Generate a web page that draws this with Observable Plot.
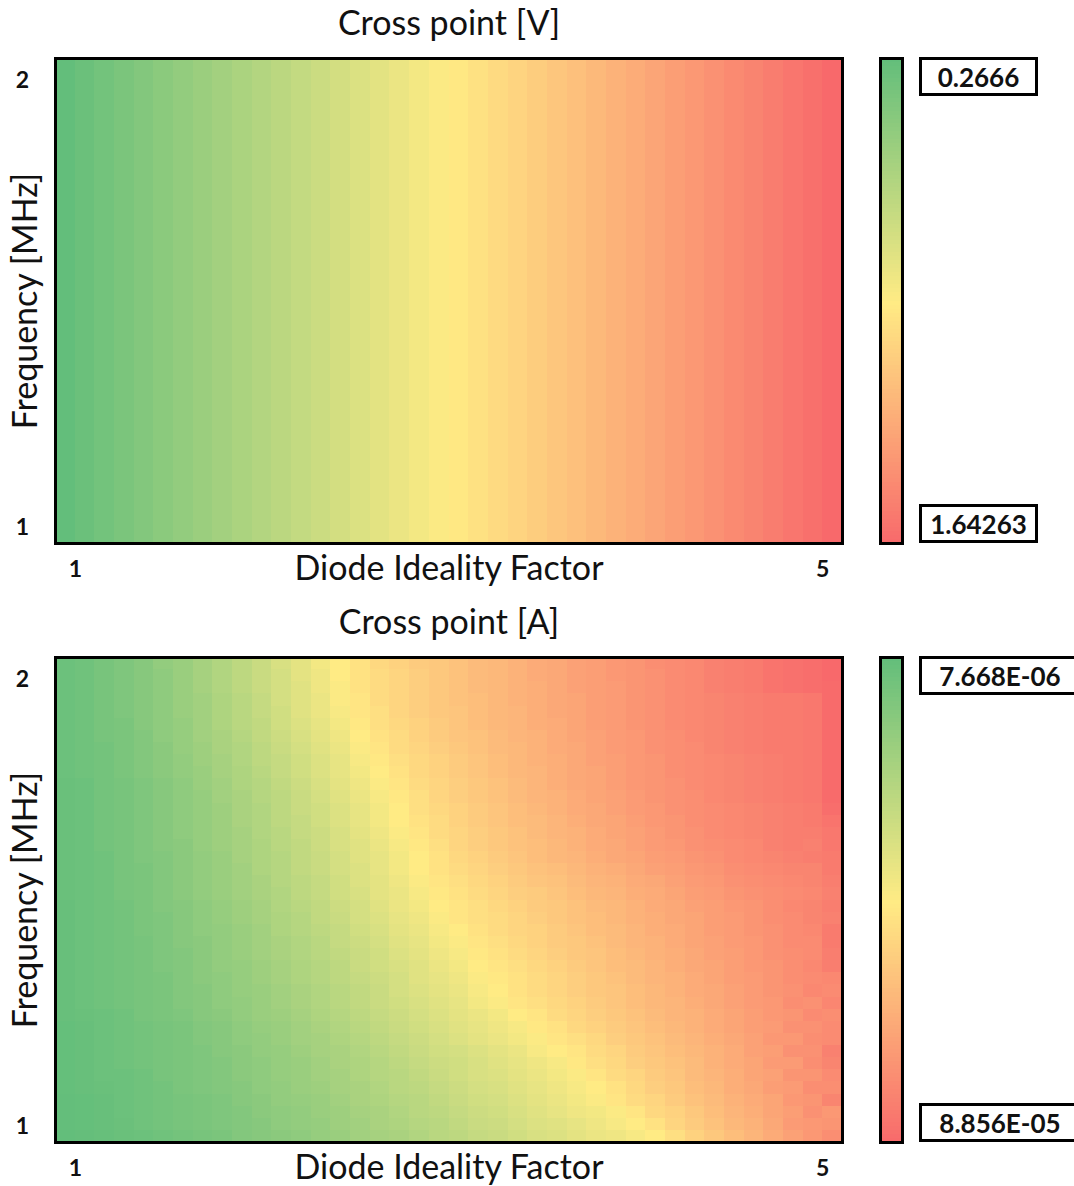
<!DOCTYPE html>
<html><head><meta charset="utf-8">
<script src="https://cdn.jsdelivr.net/npm/d3@7"></script>
<script src="https://cdn.jsdelivr.net/npm/@observablehq/plot@0.6"></script>
<style>
html,body{margin:0;padding:0;background:#fff;overflow:hidden;}
#root{position:relative;width:1074px;height:1186px;overflow:hidden;font-family:Lato,"Open Sans",sans-serif;}
.panel{position:absolute;left:0;width:1074px;height:598px;}
.panel svg{position:absolute;left:0;top:0;}
.vbox{position:absolute;left:919px;height:39px;box-sizing:border-box;border:3px solid #000;background:#fff;font-weight:700;font-size:26px;display:flex;align-items:center;justify-content:center;color:#111;font-family:Lato,sans-serif;}
</style></head><body><div id="root"></div>
<script>
// ---- axes categories ----
const idealityFactors = [1.000,1.103,1.205,1.308,1.410,1.513,1.615,1.718,1.821,1.923,2.026,2.128,2.231,2.333,2.436,2.538,2.641,2.744,2.846,2.949,3.051,3.154,3.256,3.359,3.462,3.564,3.667,3.769,3.872,3.974,4.077,4.179,4.282,4.385,4.487,4.590,4.692,4.795,4.897,5.000];
const frequenciesMHz = [1.000,1.026,1.051,1.077,1.103,1.128,1.154,1.179,1.205,1.231,1.256,1.282,1.308,1.333,1.359,1.385,1.410,1.436,1.462,1.487,1.513,1.538,1.564,1.590,1.615,1.641,1.667,1.692,1.718,1.744,1.769,1.795,1.821,1.846,1.872,1.897,1.923,1.949,1.974,2.000];

// ---- Cross point [V] by diode ideality factor (same at every frequency) ----
const crossPointVoltage = [0.2666,0.302,0.337,0.372,0.408,0.443,0.478,0.514,0.549,0.584,0.619,0.655,0.690,0.725,0.761,0.796,0.831,0.866,0.902,0.937,0.972,1.008,1.043,1.078,1.113,1.149,1.184,1.219,1.255,1.290,1.325,1.360,1.396,1.431,1.466,1.502,1.537,1.572,1.607,1.64263];

// ---- Cross point [A] in microamps; rows from 2 MHz (top) down to 1 MHz (bottom), columns n = 1..5 ----
const crossPointCurrentUA = [
[10,11,13,15,17,20,22,25,28,31,34,38,41,45,48,51,54,56,58,59,61,63,64,66,68,69,71,72,74,75,77,78,79,81,82,83,85,86,87,88.56],
[10,11,13,15,17,19,22,25,28,31,34,37,41,44,48,51,53,55,57,59,61,63,64,66,68,69,71,72,74,75,76,78,79,81,82,83,85,86,87,88.5],
[10,11,13,15,17,19,22,25,28,31,34,37,40,44,47,51,53,55,57,59,61,63,64,66,67,69,71,72,73,75,76,78,79,81,82,83,85,86,87,88],
[10,11,13,15,17,19,22,24,27,30,33,37,40,43,47,50,53,55,57,59,61,62,64,66,67,69,70,72,73,75,76,78,79,80,81,82,83,83,84,88],
[10,11,13,15,17,19,22,24,27,30,33,36,40,43,46,50,52,55,57,59,60,62,64,65,67,69,70,72,73,75,76,78,79,80,81,82,83,83,84,88],
[10,11,13,14,17,19,21,24,27,30,32,36,39,42,45,49,52,54,56,58,60,62,64,65,67,68,70,72,73,75,76,78,79,80,81,82,83,83,84,88],
[10,11,13,14,16,19,21,24,26,29,32,35,38,41,44,48,51,53,56,58,60,61,63,65,66,68,70,71,73,74,76,77,79,80,81,82,83,83,84,88],
[10,11,12,14,16,18,21,23,26,28,31,34,37,40,43,47,50,53,55,57,59,61,63,64,66,68,69,71,73,74,76,77,78,80,81,82,83,83,84,88],
[10,11,12,14,16,18,20,23,25,28,31,33,36,39,42,46,49,52,54,56,58,60,62,64,66,67,69,71,72,74,75,77,78,79,80,81,82,83,84,88],
[10,11,12,14,16,18,20,22,25,27,30,33,36,39,42,45,48,51,54,56,58,60,62,64,65,67,69,70,72,74,75,77,78,79,80,81,82,83,84,88],
[9.5,10,12,13,15,17,19,22,24,27,29,32,35,38,41,44,47,50,53,55,57,59,61,63,65,67,69,70,72,74,75,76,78,79,80,81,82,83,84,88],
[9.5,10,12,13,15,17,19,21,24,26,29,31,34,37,40,43,46,49,52,55,57,59,61,63,65,66,68,70,71,73,75,76,77,79,80,81,82,83,84,88],
[9.5,10,12,13,15,17,19,21,23,26,28,31,34,36,39,42,45,48,52,54,56,58,60,62,64,66,68,69,71,73,74,76,77,78,79,80,81,82,83,87],
[9.5,10,12,13,15,17,19,21,23,26,28,31,33,36,39,42,45,48,51,53,56,58,60,62,63,65,67,69,70,72,74,75,77,78,79,80,81,82,83,85],
[9.5,10,12,13,15,17,19,21,23,25,28,30,33,35,38,41,44,47,50,53,55,57,59,61,63,65,66,68,70,71,73,75,76,78,79,80,81,82,82,84],
[9.5,10,12,13,15,17,18,21,23,25,27,30,32,35,38,40,43,46,49,52,55,57,59,61,62,64,66,68,69,71,73,74,76,77,78,79,81,82,81,84],
[9.5,10,11,13,15,16,18,20,22,25,27,29,32,34,37,40,42,45,48,51,54,56,58,60,62,64,65,67,69,70,72,73,75,76,78,79,80,81,82,83],
[9.5,10,11,13,14,16,18,20,22,24,27,29,32,34,37,39,42,45,48,51,53,55,57,59,61,62,64,66,67,69,71,72,74,75,77,78,79,80,80,83],
[9.5,10,11,13,14,16,18,20,22,24,26,29,31,33,36,39,41,44,47,50,52,54,56,58,60,61,63,65,66,68,69,71,73,74,76,77,78,79,80,82],
[9.5,10,11,13,14,16,18,20,22,24,26,28,31,33,36,38,41,43,46,49,51,53,55,57,58,60,62,64,65,67,68,70,72,73,75,76,77,78,79,81],
[9,10,11,12,14,16,17,19,21,23,25,28,30,32,35,37,40,43,45,48,50,52,54,56,58,59,61,63,64,66,68,69,71,72,74,75,77,79,80,82],
[9,10,11,12,14,15,17,19,21,23,25,27,29,32,34,37,39,42,44,47,50,52,53,55,57,59,61,62,64,66,67,69,70,72,73,75,77,78,80,81],
[9,10,11,12,14,15,17,19,20,22,24,27,29,31,33,36,38,41,43,46,48,51,53,55,56,58,60,62,63,65,67,68,70,72,73,75,76,78,79,83],
[9,10,11,12,13,15,17,18,20,22,24,26,28,30,33,35,37,40,42,45,47,50,52,54,56,58,59,61,63,65,66,68,70,71,73,74,76,78,78,83],
[9,10,11,12,13,15,16,18,20,22,24,26,28,30,32,34,36,39,41,44,46,49,51,53,55,57,59,60,62,64,66,67,69,71,72,74,76,77,78,82],
[9,10,11,12,13,15,16,18,20,21,23,25,27,29,31,34,36,38,40,43,45,48,50,52,54,56,58,60,62,63,65,67,69,70,72,74,75,77,79,82],
[9,10,11,12,13,14,16,18,19,21,23,25,27,29,31,33,35,37,40,42,44,47,49,51,53,55,57,59,61,63,65,66,68,70,72,73,75,77,78,79],
[9,10,11,12,13,14,16,17,19,21,22,24,26,28,30,32,34,37,39,41,43,46,48,51,53,55,57,59,60,62,64,66,68,69,71,73,75,76,79,78],
[9,10,11,12,13,14,16,17,19,20,22,24,26,28,30,32,34,36,38,40,42,45,47,50,52,54,56,58,60,62,64,65,67,69,71,73,74,77,76,79.5],
[9,9.5,10,11,13,14,15,17,18,20,22,23,25,27,29,31,33,35,37,39,41,43,45,48,50,53,55,57,59,61,63,65,66,68,70,72,74,75,78,77],
[8.3,9,10,11,12,13,14,16,17,19,21,22,24,26,28,30,32,34,36,38,40,42,44,46,49,51,54,56,58,60,62,64,66,68,70,72,73,76,76,78],
[8.3,9,10,11,12,13,14,16,17,19,20,22,24,25,27,29,31,33,35,37,39,41,43,45,47,50,52,54,57,59,61,63,65,67,69,71,74,74,77,78],
[8.3,9,10,11,12,13,14,15,17,18,20,21,23,25,26,28,30,32,34,36,37,39,41,43,46,48,50,53,55,58,60,62,64,66,68,71,72,76,76,81],
[8.3,9,10,11,12,13,14,15,16,18,19,21,22,24,26,27,29,31,33,35,36,38,40,42,44,46,49,52,54,57,59,61,63,66,68,70,73,73,77,80],
[8.3,9,10,10,11,13,14,15,16,18,19,21,22,24,25,27,29,30,32,34,36,38,39,41,43,45,47,50,53,55,58,60,63,65,67,70,71,75,75,78],
[8.3,9,9.5,10,11,12,14,15,16,17,19,20,22,23,25,26,28,30,31,33,35,37,38,40,42,44,46,48,51,54,57,59,62,64,67,69,72,73,77,77],
[7.9,8.3,9,10,11,12,13,14,15,17,18,20,21,22,24,26,27,29,30,32,34,36,37,39,41,43,45,47,50,53,55,58,61,63,66,68,70,74,75,80],
[7.9,8.3,9,10,11,12,13,14,15,16,18,19,20,22,23,25,26,28,30,31,33,35,36,38,40,42,44,45,47,50,54,56,59,62,65,67,70,72,76,74],
[7.8,8.2,9,9.7,11,12,13,14,15,16,17,19,20,21,23,24,26,27,29,30,32,34,35,37,39,40,42,44,46,48,51,55,58,61,64,66,69,73,74,75],
[7.668,8.1,8.7,9.5,10,11,12,13,14,16,17,18,19,21,22,24,25,26,28,30,31,33,34,36,38,39,41,43,44,46,48,52,56,59,62,65,68,71,74,77]
];

// ---- colour scale stops (Excel-style 3-colour scale) ----
const GREEN = "#63BE7B", YELLOW = "#FFEB84", RED = "#F8696B";
const INK = "#111";
const FONT = "Lato, 'Open Sans', sans-serif";

// ---- build tidy tables ----
const voltCells = [];
frequenciesMHz.forEach(f => idealityFactors.forEach((n, j) => voltCells.push({f, n, v: crossPointVoltage[j]})));
const currCells = [];
crossPointCurrentUA.forEach((row, r) => {
  const f = frequenciesMHz[frequenciesMHz.length - 1 - r];
  row.forEach((v, j) => currCells.push({f, n: idealityFactors[j], v}));
});

const fmtExcelSci = uA => {
  const [m, e] = (uA * 1e-6).toExponential(3).split("e");
  const ex = +e;
  return m + "E" + (ex < 0 ? "-" : "+") + String(Math.abs(ex)).padStart(2, "0");
};

const root = document.getElementById("root");

function panel(top, {title, cells, unitFmt, boxW}) {
  const lo = d3.min(cells, d => d.v), hi = d3.max(cells, d => d.v);
  const domain = [lo, (lo + hi) / 2, hi];
  const color = {type: "linear", domain, range: [GREEN, YELLOW, RED], interpolate: "rgb"};
  const div = document.createElement("div");
  div.className = "panel";
  div.style.top = top + "px";

  const t = {fill: INK, fontFamily: FONT, textAnchor: "middle", lineAnchor: "middle"};
  const tick = {...t, fontWeight: 700, fontSize: 23};
  const lab = {...t, fontSize: 34};
  const heat = Plot.plot({
    width: 1074, height: 598,
    marginLeft: 55, marginRight: 232, marginTop: 58, marginBottom: 55,
    style: {background: "transparent", overflow: "visible", fontFamily: FONT},
    x: {type: "band", domain: idealityFactors, padding: 0, round: false, axis: null},
    y: {type: "band", domain: [...frequenciesMHz].reverse(), padding: 0, round: false, axis: null},
    color,
    marks: [
      Plot.cell(cells, {x: "n", y: "f", fill: "v", inset: 0, shapeRendering: "crispEdges"}),
      Plot.frame({stroke: "#000", strokeWidth: 3}),
      // tick labels (first / last category only)
      Plot.text([idealityFactors[0]], {x: d => d, text: d => d3.format("d")(d), frameAnchor: "bottom", dy: 26, dx: 10, ...tick}),
      Plot.text([idealityFactors[idealityFactors.length - 1]], {x: d => d, text: d => d3.format("d")(d), frameAnchor: "bottom", dy: 26, dx: -10, ...tick}),
      Plot.text([frequenciesMHz[frequenciesMHz.length - 1]], {y: d => d, text: d => d3.format("d")(d), frameAnchor: "left", dx: -33, dy: 16, ...tick}),
      Plot.text([frequenciesMHz[0]], {y: d => d, text: d => d3.format("d")(d), frameAnchor: "left", dx: -33, dy: -10, ...tick}),
      // axis titles and panel title
      Plot.text(["Diode Ideality Factor"], {text: d => d, frameAnchor: "bottom", dy: 26, ...lab}),
      Plot.text(["Frequency [MHz]"], {text: d => d, frameAnchor: "left", dx: -29, rotate: -90, ...lab}),
      Plot.text([title], {text: d => d, frameAnchor: "top", dy: -34, ...lab})
    ]
  });
  div.appendChild(heat);

  // vertical colour bar (min at top, max at bottom)
  const steps = d3.range(121).map(i => lo + (hi - lo) * i / 120);
  const bar = Plot.plot({
    width: 40, height: 598,
    marginLeft: 10, marginRight: 8, marginTop: 58, marginBottom: 55,
    style: {background: "transparent"},
    x: {domain: [0, 1], axis: null},
    y: {domain: [lo, hi], reverse: true, axis: null},
    color,
    marks: [
      Plot.rect(steps.slice(0, -1), {x1: 0, x2: 1, y1: d => d, y2: (d, i) => steps[i + 1], fill: d => d, shapeRendering: "crispEdges"}),
      Plot.frame({stroke: "#000", strokeWidth: 3})
    ]
  });
  bar.style.left = "870px";
  div.appendChild(bar);

  const b1 = document.createElement("div");
  b1.className = "vbox"; b1.style.top = "57px"; b1.style.width = boxW + "px";
  b1.textContent = unitFmt(lo);
  const b2 = document.createElement("div");
  b2.className = "vbox"; b2.style.top = "504px"; b2.style.width = boxW + "px";
  b2.textContent = unitFmt(hi);
  div.appendChild(b1); div.appendChild(b2);
  root.appendChild(div);
}

panel(0, {title: "Cross point [V]", cells: voltCells, unitFmt: v => String(v), boxW: 119});
panel(599, {title: "Cross point [A]", cells: currCells, unitFmt: fmtExcelSci, boxW: 162});
</script></body></html>
